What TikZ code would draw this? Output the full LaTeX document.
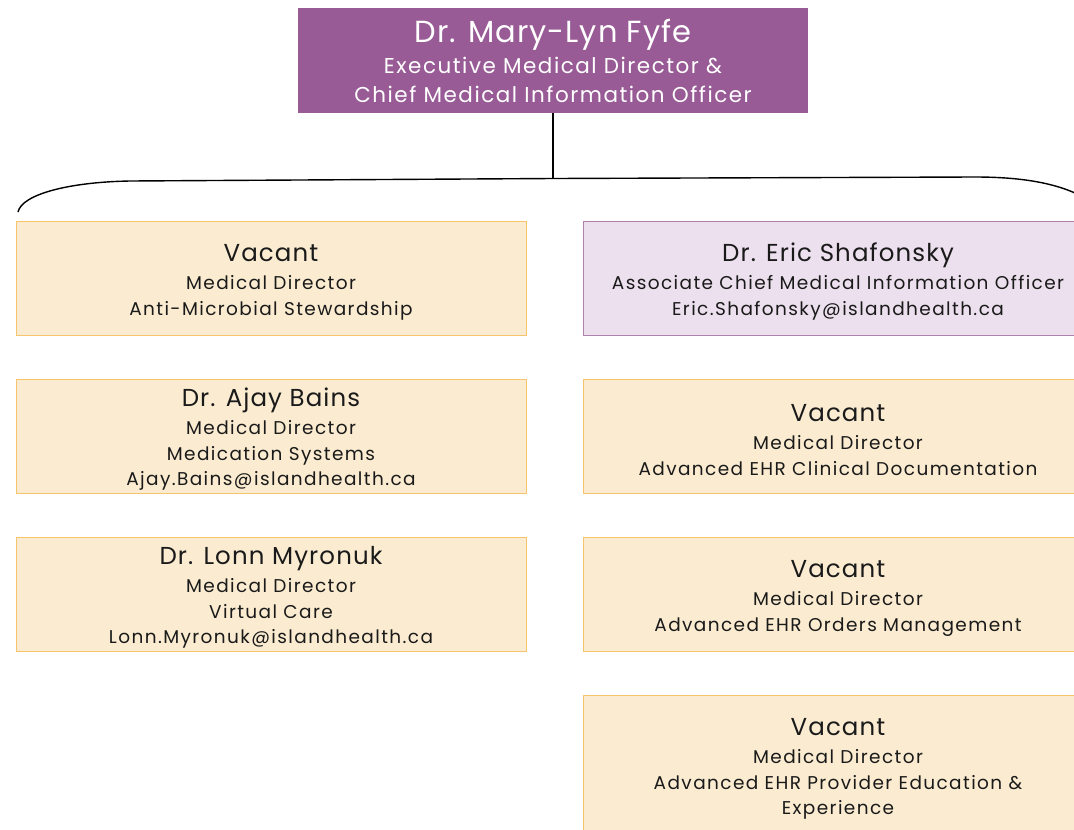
\documentclass[tikz,border=0pt]{standalone}
\usepackage{fontspec}
\setmainfont{Poppins}
\definecolor{topfill}{HTML}{985B96}
\definecolor{orfill}{HTML}{FBECD1}
\definecolor{ordraw}{HTML}{F5C46C}
\definecolor{lvfill}{HTML}{EDE0EE}
\definecolor{lvdraw}{HTML}{AE82AE}
\definecolor{txt}{HTML}{1A1A1A}
\newcommand{\bodyfont}{\fontsize{18.5}{25.5}\selectfont\addfontfeature{LetterSpace=7.5}}
\newcommand{\topbodyfont}{\fontsize{21.5}{29}\selectfont\addfontfeature{LetterSpace=7}}
\tikzset{
  orgbox/.style={rectangle, draw=ordraw, fill=orfill, line width=0.9pt, minimum width=510pt, minimum height=114pt, inner sep=0pt, align=center, text=txt, font=\bodyfont},
  lvbox/.style={orgbox, draw=lvdraw, fill=lvfill},
  topbox/.style={rectangle, fill=topfill, minimum width=510pt, minimum height=105pt, inner sep=0pt, align=center, text=white, font=\topbodyfont},
  conn/.style={draw=black, line width=1.4pt}
}
\newcommand{\nm}[1]{\rule{0pt}{25pt}{\fontsize{24.5}{25.5}\selectfont\addfontfeature{LetterSpace=4.5}#1}\\[3pt]}
\newcommand{\tnm}[1]{{\fontsize{30.5}{33}\selectfont\addfontfeature{LetterSpace=3.5}#1}\\[2pt]}
\begin{document}
\begin{tikzpicture}[x=1pt,y=-1pt]
\useasboundingbox (0,0) rectangle (1074,830);
\begin{scope}
\clip (0,0) rectangle (1074,830);
\node[topbox] (top) at (553,60.5) {\tnm{Dr. Mary-Lyn Fyfe}Executive Medical Director \&\\Chief Medical Information Officer};
\node[orgbox] (l1) at (271,278) {\nm{Vacant}Medical Director\\Anti-Microbial Stewardship};
\node[orgbox] (l2) at (271,436) {\nm{Dr. Ajay Bains}Medical Director\\Medication Systems\\Ajay.Bains@islandhealth.ca};
\node[orgbox] (l3) at (271,594) {\nm{Dr. Lonn Myronuk}Medical Director\\Virtual Care\\Lonn.Myronuk@islandhealth.ca};
\node[lvbox] (r1) at (838,278) {\nm{Dr. Eric Shafonsky}Associate Chief Medical Information Officer\\Eric.Shafonsky@islandhealth.ca};
\node[orgbox] (r2) at (838,436) {\nm{Vacant}Medical Director\\Advanced EHR Clinical Documentation};
\node[orgbox] (r3) at (838,594) {\nm{Vacant}Medical Director\\Advanced EHR Orders Management};
\node[orgbox, minimum height=140pt] (r4) at (838,765) {\nm{Vacant}Medical Director\\Advanced EHR Provider Education \&\\Experience};
\coordinate (bl) at (18,212);
\coordinate (bm) at (553,178.5);
\coordinate (br) at (1085,198);
\draw[conn] (top.south) -- (bm);
\draw[conn] (bl) .. controls (22,194) and (70,182) .. (130,181) -- (bm) -- (975,177) .. controls (1025,177) and (1060,184) .. (br);
\end{scope}
\end{tikzpicture}
\end{document}
